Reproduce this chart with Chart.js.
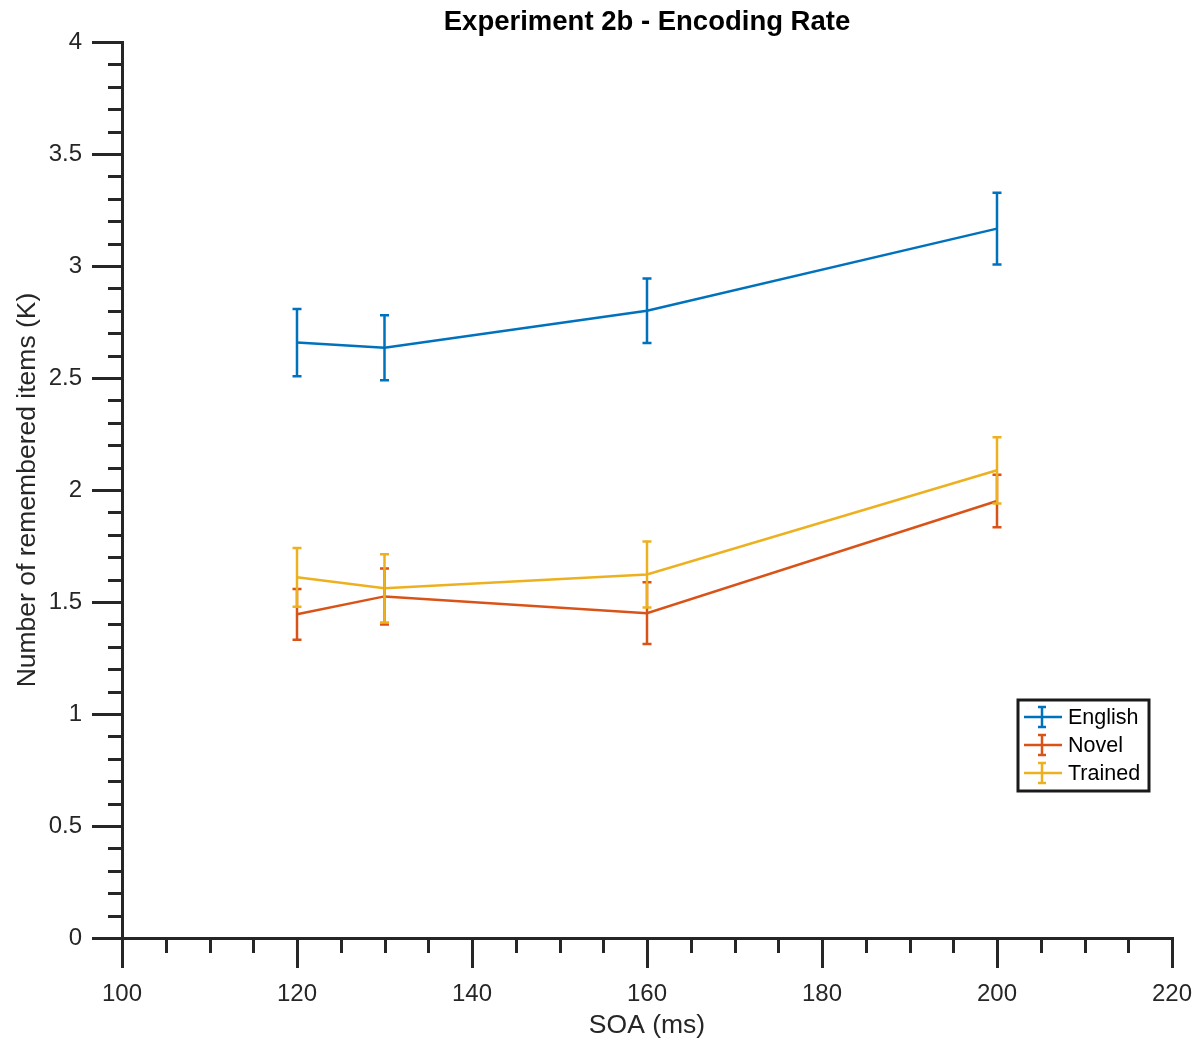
<!DOCTYPE html>
<html>
<head>
<meta charset="utf-8">
<script src="https://cdn.jsdelivr.net/npm/chart.js@4/dist/chart.umd.min.js"></script>
<style>
html,body{margin:0;padding:0;background:#fff;}
#wrap{width:1198px;height:1044px;}
</style>
</head>
<body>
<div id="wrap"><canvas id="c" width="1198" height="1044"></canvas></div>
<script>
// ---- data ----
const soa = [120, 130, 160, 200];
const english = [2.658, 2.635, 2.800, 3.167];
const englishErr = [0.150, 0.145, 0.144, 0.160];
const novel = [1.445, 1.525, 1.450, 1.951];
const novelErr = [0.113, 0.125, 0.138, 0.117];
const trained = [1.610, 1.561, 1.623, 2.088];
const trainedErr = [0.131, 0.152, 0.147, 0.148];
const seriesNames = ['English', 'Novel', 'Trained'];
const seriesColors = ['#0072BD', '#D95319', '#EDB120'];
const xTickLabels = ['100', '120', '140', '160', '180', '200', '220'];
const yTickLabels = ['0', '0.5', '1', '1.5', '2', '2.5', '3', '3.5', '4'];

const FONT = '"Liberation Sans", Arial, Helvetica, sans-serif';
const AX = '#262626';

function pts(ys) { return soa.map((x, i) => ({x: x, y: ys[i]})); }
const allVals = [english, novel, trained];
const allErrs = [englishErr, novelErr, trainedErr];

const datasets = seriesNames.map((n, k) => ({
  label: n,
  data: pts(allVals[k]),
  errors: allErrs[k],
  borderColor: seriesColors[k],
  backgroundColor: seriesColors[k],
  borderWidth: 2.5,
  pointRadius: 0,
  tension: 0,
  showLine: true,
  fill: false
}));

const errorBars = {
  id: 'errorBars',
  afterDatasetsDraw(chart) {
    const ctx = chart.ctx, xs = chart.scales.x, ys = chart.scales.y;
    chart.data.datasets.forEach((ds) => {
      ctx.save();
      ctx.strokeStyle = ds.borderColor;
      ctx.lineWidth = 2.5;
      ds.data.forEach((p, i) => {
        const e = ds.errors[i];
        const px = xs.getPixelForValue(p.x);
        const yt = ys.getPixelForValue(p.y + e);
        const yb = ys.getPixelForValue(p.y - e);
        ctx.beginPath();
        ctx.moveTo(px, yt); ctx.lineTo(px, yb);
        ctx.moveTo(px - 4.5, yt); ctx.lineTo(px + 4.5, yt);
        ctx.moveTo(px - 4.5, yb); ctx.lineTo(px + 4.5, yb);
        ctx.stroke();
      });
      ctx.restore();
    });
  }
};

const minorTicks = {
  id: 'minorTicks',
  afterDraw(chart) {
    const ctx = chart.ctx, xs = chart.scales.x, ys = chart.scales.y;
    const a = chart.chartArea;
    ctx.save();
    ctx.strokeStyle = AX;
    ctx.lineWidth = 3;
    ctx.beginPath();
    for (let v = 105; v < 220; v += 5) {
      if (v % 20 === 0) continue;
      const px = Math.round(xs.getPixelForValue(v)) + 0.5;
      ctx.moveTo(px, a.bottom); ctx.lineTo(px, a.bottom + 15);
    }
    for (let i = 1; i < 40; i++) {
      if (i % 5 === 0) continue;
      const py = Math.round(ys.getPixelForValue(i / 10)) + 0.5;
      ctx.moveTo(a.left, py); ctx.lineTo(a.left - 14, py);
    }
    ctx.stroke();
    ctx.restore();
  }
};

const boxLegend = {
  id: 'boxLegend',
  afterDraw(chart) {
    const ctx = chart.ctx;
    const L = 1018, T = 700, W = 131, H = 91;
    ctx.save();
    ctx.fillStyle = '#fff';
    ctx.fillRect(L, T, W, H);
    ctx.strokeStyle = '#1a1a1a';
    ctx.lineWidth = 3;
    ctx.strokeRect(L, T, W, H);
    chart.data.datasets.forEach((ds, k) => {
      const y = T + 17 + k * 28;
      ctx.strokeStyle = ds.borderColor;
      ctx.lineWidth = 2.5;
      ctx.beginPath();
      ctx.moveTo(L + 6, y); ctx.lineTo(L + 44, y);
      const cx = L + 24;
      ctx.moveTo(cx, y - 10); ctx.lineTo(cx, y + 10);
      ctx.moveTo(cx - 4, y - 10); ctx.lineTo(cx + 4, y - 10);
      ctx.moveTo(cx - 4, y + 10); ctx.lineTo(cx + 4, y + 10);
      ctx.stroke();
      ctx.fillStyle = '#000';
      ctx.font = '21.5px ' + FONT;
      ctx.textBaseline = 'middle';
      ctx.textAlign = 'left';
      ctx.fillText(ds.label, L + 50, y + 1);
    });
    ctx.restore();
  }
};

const axisCommon = (title) => ({
  type: 'linear',
  grid: {
    display: true,
    drawOnChartArea: false,
    drawTicks: true,
    tickLength: 30,
    tickWidth: 3,
    tickColor: AX,
    color: AX,
    lineWidth: 3
  },
  border: { display: true, color: AX, width: 3 },
  title: { display: true, text: title, color: AX, font: { family: FONT, size: 26.5 } }
});

const xAxis = Object.assign(axisCommon('SOA (ms)'), {
  position: 'bottom',
  min: 100, max: 220,
  ticks: {
    stepSize: 20, color: AX, padding: 12, maxRotation: 0,
    font: { family: FONT, size: 24 },
    callback: (v) => xTickLabels[xTickLabels.indexOf(String(v))] ?? ''
  },
  afterFit(s) { s.height = 106; s.paddingLeft = 0; s.paddingRight = 0; }
});
xAxis.title.padding = { top: 4, bottom: 2 };

const yAxis = Object.assign(axisCommon('Number of remembered items (K)'), {
  position: 'left',
  min: 0, max: 4,
  ticks: {
    stepSize: 0.5, color: AX, padding: 10,
    font: { family: FONT, size: 24 },
    callback: (v) => { const s = String(Math.round(v * 10) / 10); return yTickLabels.includes(s) ? s : ''; }
  },
  afterFit(s) { s.width = 122; s.paddingTop = 0; s.paddingBottom = 0; }
});
yAxis.title.padding = { top: 12, bottom: 0 };

new Chart(document.getElementById('c'), {
  type: 'line',
  data: { datasets: datasets },
  options: {
    responsive: false,
    animation: false,
    devicePixelRatio: 1,
    layout: { padding: { left: 0, right: 26, top: 0, bottom: 0 } },
    scales: { x: xAxis, y: yAxis },
    plugins: {
      legend: { display: false },
      tooltip: { enabled: false },
      title: {
        display: true,
        fullSize: false,
        text: 'Experiment 2b - Encoding Rate',
        color: '#000',
        font: { family: FONT, size: 27.5, weight: 'bold' },
        padding: { top: 6, bottom: 3 }
      }
    }
  },
  plugins: [errorBars, minorTicks, boxLegend]
});
</script>
</body>
</html>
